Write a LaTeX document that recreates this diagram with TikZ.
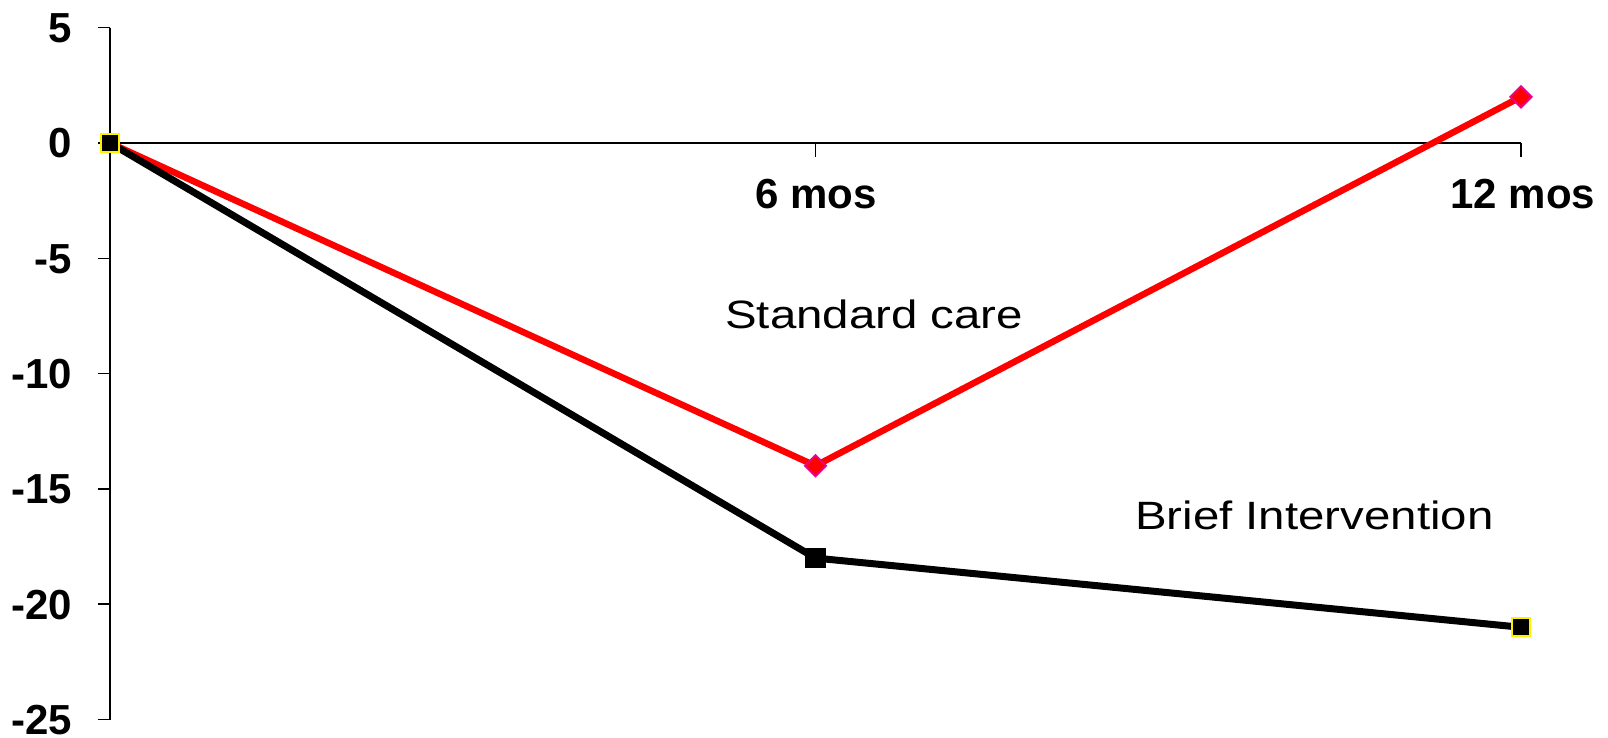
\documentclass[tikz,border=0pt]{standalone}
\usepackage{fontspec}
\setmainfont{Liberation Sans}
\usetikzlibrary{shapes.geometric}
\tikzset{
axis/.style={
		draw,
		line width=1.5pt
	},
ylab/.style={
		anchor=east,
		inner sep=0pt,
		text height=30pt,
		text depth=0pt,
		font=\fontsize{42}{50}\selectfont\bfseries
	},
xlab/.style={
		anchor=base,
		inner sep=0pt,
		font=\fontsize{42}{50}\selectfont\bfseries
	},
serieslab/.style={
		anchor=base west,
		inner sep=0pt,
		font=\fontsize{39.5}{47}\selectfont
	},
redline/.style={
		draw=red,
		line width=6.5pt
	},
blackline/.style={
		draw=black,
		line width=7pt
	},
sqmark/.style={
		draw=yellow,
		fill=black,
		rectangle,
		minimum size=18pt,
		inner sep=0pt,
		line width=2.2pt
	},
dimark/.style={
		draw=magenta,
		fill=red,
		diamond,
		minimum size=22pt,
		inner sep=0pt,
		line width=1.8pt
	}
}
\begin{document}
\begin{tikzpicture}[x=117.58pt,y=23.06pt]
			\useasboundingbox (-0.9355,-25.759) rectangle (12.740,6.201);
			\draw[axis] (0,5) -- (0,-25);
			\draw[axis] (0,0) -- (12,0);
			\foreach \v in {5,0,-5,-10,-15,-20,-25}{
				\draw[axis] (-0.102,\v) -- (0,\v);
				\node[ylab] (y\v) at (-0.323,\v) {\v};
			}
			\draw[axis] (6,0) -- (6,-0.6);
			\draw[axis] (12,0) -- (12,-0.6);
			\node[xlab] (m6) at (6.004,-2.819) {6 mos};
			\node[xlab] (m12) at (12.017,-2.819) {12 mos};
			\coordinate (r0) at (0,0);
			\coordinate (r6) at (6,-14);
			\coordinate (r12) at (12,2);
			\coordinate (b0) at (0,0);
			\coordinate (b6) at (6,-18);
			\coordinate (b12) at (12,-21);
			\draw[redline] (r0) -- (r6) -- (r12);
			\draw[blackline] (b0) -- (b6) -- (b12);
			\node[dimark] (rm6) at (r6) {};
			\node[dimark] (rm12) at (r12) {};
			\node[sqmark] (bm0) at (b0) {};
			\node[sqmark, draw=black] (bm6) at (b6) {};
			\node[sqmark] (bm12) at (b12) {};
			\node[serieslab] (sc) at (5.231,-8.023) {\scalebox{1.2}[1]{Standard care}};
			\node[serieslab] (bi) at (8.717,-16.78) {\scalebox{1.2}[1]{Brief Intervention}};
			\end{tikzpicture}
\end{document}
